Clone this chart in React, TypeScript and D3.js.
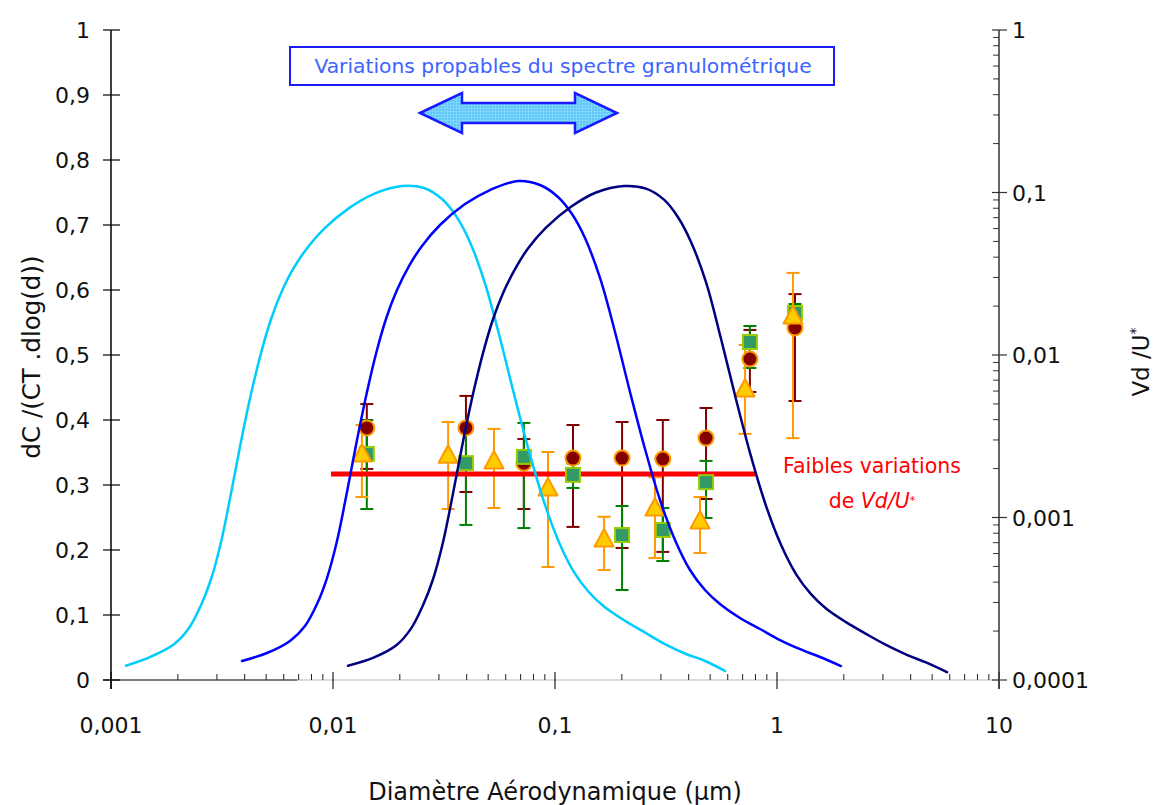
import React from "react";
import * as d3 from "d3";

const W = 1154;
const H = 805;
const FONT = "'DejaVu Sans', Verdana, sans-serif";

// Axis ticks
const xTickValues = [0.001, 0.01, 0.1, 1, 10];
const xTickLabels = ["0,001", "0,01", "0,1", "1", "10"];
const yLeftTicks = [0, 0.1, 0.2, 0.3, 0.4, 0.5, 0.6, 0.7, 0.8, 0.9, 1];
const yLeftLabels = ["0", "0,1", "0,2", "0,3", "0,4", "0,5", "0,6", "0,7", "0,8", "0,9", "1"];
const yRightTicks = [0.0001, 0.001, 0.01, 0.1, 1];
const yRightLabels = ["0,0001", "0,001", "0,01", "0,1", "1"];

// Size-distribution curves (diameter µm, dC/(CT dlog d))
const cyanD = [0.0011683, 0.0015141, 0.0019222, 0.0022458, 0.0025435, 0.0028217, 0.00313, 0.0034718, 0.0038513, 0.0042721, 0.004739, 0.0052568, 0.0058313, 0.0066045, 0.0075558, 0.0091104, 0.011806, 0.015299, 0.020457, 0.0257, 0.030977, 0.035816, 0.040986, 0.047884, 0.055944, 0.065364, 0.076367, 0.089226, 0.10424, 0.12179, 0.14229, 0.16625, 0.20457, 0.25171, 0.30977, 0.38913, 0.46901, 0.58313];
const cyanY = [0.022, 0.036, 0.055, 0.08, 0.115, 0.155, 0.212, 0.287, 0.367, 0.44, 0.503, 0.555, 0.595, 0.632, 0.662, 0.694, 0.726, 0.748, 0.76, 0.757, 0.74, 0.714, 0.677, 0.615, 0.532, 0.44, 0.352, 0.274, 0.212, 0.166, 0.135, 0.113, 0.092, 0.074, 0.056, 0.04, 0.03, 0.014];

const blueD = [0.003891, 0.005043, 0.006401, 0.007479, 0.008471, 0.009397, 0.010424, 0.011562, 0.012826, 0.014227, 0.015781, 0.017506, 0.019418, 0.021995, 0.025171, 0.030336, 0.03932, 0.05095, 0.068129, 0.085588, 0.10316, 0.11929, 0.1365, 0.15951, 0.18637, 0.21773, 0.25435, 0.29718, 0.34718, 0.40562, 0.4739, 0.55367, 0.68129, 0.83837, 1.0316, 1.2963, 1.5618, 1.9422];
const blueY = [0.0292, 0.0415, 0.06, 0.0831, 0.1169, 0.1569, 0.2138, 0.2892, 0.3692, 0.4431, 0.5077, 0.56, 0.6, 0.6369, 0.6677, 0.7, 0.7323, 0.7538, 0.7677, 0.7615, 0.7431, 0.7169, 0.68, 0.6185, 0.5354, 0.4431, 0.3554, 0.2769, 0.2154, 0.1692, 0.1385, 0.1169, 0.0954, 0.0785, 0.0615, 0.0462, 0.0354, 0.0215];

const navyD = [0.011683, 0.015141, 0.019222, 0.022458, 0.025435, 0.028217, 0.0313, 0.034718, 0.038513, 0.042721, 0.04739, 0.052568, 0.058313, 0.066045, 0.075558, 0.091104, 0.11806, 0.15299, 0.20457, 0.257, 0.30977, 0.35816, 0.40986, 0.47884, 0.55944, 0.65364, 0.76367, 0.89226, 1.0424, 1.2179, 1.4229, 1.6625, 2.0457, 2.5171, 3.0977, 3.8913, 4.6901, 5.8313];
const navyY = [0.022, 0.034, 0.053, 0.079, 0.115, 0.155, 0.212, 0.287, 0.367, 0.44, 0.503, 0.555, 0.595, 0.632, 0.664, 0.696, 0.728, 0.75, 0.76, 0.756, 0.739, 0.712, 0.674, 0.612, 0.525, 0.432, 0.344, 0.268, 0.208, 0.163, 0.132, 0.11, 0.089, 0.071, 0.054, 0.038, 0.027, 0.012];

// Vd/U* measurements (right log axis)
const circleD = [0.0142, 0.0397, 0.0724, 0.1205, 0.2005, 0.306, 0.479, 0.755, 1.205];
const circleV = [0.00356, 0.00356, 0.00216, 0.00232, 0.00232, 0.00229, 0.00308, 0.00945, 0.01466];
const circleLo = [0.00199, 0.001435, 0.001128, 0.000875, 0.000649, 0.000614, 0.0013, 0.00592, 0.00521];
const circleHi = [0.00499, 0.0056, 0.00304, 0.00371, 0.00387, 0.00398, 0.00472, 0.01426, 0.0237];

const squareD = [0.0142, 0.0397, 0.0724, 0.1205, 0.2005, 0.306, 0.479, 0.755, 1.205];
const squareV = [0.00246, 0.00216, 0.00236, 0.00183, 0.00078, 0.000838, 0.00165, 0.01202, 0.01813];
const squareLo = [0.001128, 0.0009, 0.000861, 0.00152, 0.000358, 0.00054, 0.000993, 0.00832, 0.0153];
const squareHi = [0.00398, 0.00345, 0.00382, 0.00215, 0.001177, 0.001144, 0.00223, 0.01508, 0.0206];

const triD = [0.0135, 0.033, 0.0531, 0.093, 0.1664, 0.282, 0.45, 0.718, 1.18];
const triV = [0.00249, 0.00245, 0.00226, 0.00154, 0.000748, 0.00116, 0.000965, 0.00627, 0.0176];
const triLo = [0.001337, 0.001128, 0.001144, 0.000496, 0.000475, 0.000563, 0.000605, 0.00327, 0.00308];
const triHi = [0.00371, 0.00387, 0.00351, 0.00253, 0.00101, 0.00177, 0.001337, 0.01153, 0.032];

// Constant Vd/U* line
const redLineD = [0.0098, 0.8];
const redLineV = 0.00185;

export default function App() {
  const x = d3.scaleLog().domain([0.001, 10]).range([111, 999]);
  const yL = d3.scaleLinear().domain([0, 1]).range([680, 30]);
  const yR = d3.scaleLog().domain([0.0001, 1]).range([680, 30]);

  const line = d3
    .line<[number, number]>()
    .x((d) => x(d[0]))
    .y((d) => yL(d[1]))
    .curve(d3.curveCatmullRom.alpha(0.5));

  const curves = [
    { d: cyanD, y: cyanY, color: "#00ccff" },
    { d: blueD, y: blueY, color: "#0000ff" },
    { d: navyD, y: navyY, color: "#000080" },
  ];

  const xMinor = x.ticks().filter((v) => !xTickValues.some((t) => Math.abs(t - v) / t < 1e-6));
  const yMinor = yR.ticks().filter((v) => !yRightTicks.some((t) => Math.abs(t - v) / t < 1e-6));

  const errBars = (ds: number[], lo: number[], hi: number[], color: string, key: string) =>
    ds.map((d, i) => {
      const cx = x(d);
      return (
        <g key={key + i} stroke={color} strokeWidth={2}>
          <line x1={cx} x2={cx} y1={yR(lo[i])} y2={yR(hi[i])} />
          <line x1={cx - 6.5} x2={cx + 6.5} y1={yR(lo[i])} y2={yR(lo[i])} />
          <line x1={cx - 6.5} x2={cx + 6.5} y1={yR(hi[i])} y2={yR(hi[i])} />
        </g>
      );
    });

  // arrow geometry (annotation)
  const aL = 420, aR = 617, aY = 113, headL = 42, headH = 20, shaftH = 10;
  const arrowPath = `M${aL},${aY} L${aL + headL},${aY - headH} L${aL + headL},${aY - shaftH} L${aR - headL},${aY - shaftH} L${aR - headL},${aY - headH} L${aR},${aY} L${aR - headL},${aY + headH} L${aR - headL},${aY + shaftH} L${aL + headL},${aY + shaftH} L${aL + headL},${aY + headH} Z`;

  return (
    <svg
      width={W}
      height={H}
      style={{ position: "absolute", left: 0, top: 0, background: "#fff" }}
      fontFamily={FONT}
    >
      <defs>
        <pattern id="grid" width="3" height="3" patternUnits="userSpaceOnUse">
          <rect width="3" height="3" fill="#5ec8f8" />
          <path d="M0,0 H3 M0,0 V3" stroke="#a8e4ff" strokeWidth={0.8} />
        </pattern>
      </defs>

      {/* x axis */}
      <line x1={103} x2={999} y1={yL(0)} y2={yL(0)} stroke="#cfcfcf" strokeWidth={1.5} />
      <line x1={103} x2={x(0.0069)} y1={yL(0)} y2={yL(0)} stroke="#222" strokeWidth={1.2} />
      {xMinor.map((v, i) => (
        <line key={"xm" + i} x1={x(v)} x2={x(v)} y1={yL(0) - 6} y2={yL(0)} stroke="#222" strokeWidth={1} />
      ))}
      {xTickValues.map((v, i) => (
        <g key={"xt" + i}>
          <line x1={x(v)} x2={x(v)} y1={yL(0) - 8} y2={yL(0) + 9} stroke="#222" strokeWidth={1.2} />
          <text x={x(v)} y={733} textAnchor="middle" fontSize={22} fill="#111">
            {xTickLabels[i]}
          </text>
        </g>
      ))}

      {/* left axis */}
      <line x1={111} x2={111} y1={yL(1)} y2={yL(0) + 9} stroke="#000" strokeWidth={1.5} />
      {yLeftTicks.map((v, i) => (
        <g key={"yl" + i}>
          <line x1={103} x2={120} y1={yL(v)} y2={yL(v)} stroke="#000" strokeWidth={1.2} />
          <text x={90} y={yL(v) + 8} textAnchor="end" fontSize={22} fill="#111">
            {yLeftLabels[i]}
          </text>
        </g>
      ))}

      {/* right axis */}
      <line x1={999} x2={999} y1={yR(1)} y2={yR(0.0001) + 9} stroke="#333" strokeWidth={1.5} />
      {yMinor.map((v, i) => (
        <line key={"rm" + i} x1={993} x2={999} y1={yR(v)} y2={yR(v)} stroke="#333" strokeWidth={1} />
      ))}
      {yRightTicks.map((v, i) => (
        <g key={"yr" + i}>
          <line x1={992} x2={1007} y1={yR(v)} y2={yR(v)} stroke="#333" strokeWidth={1.2} />
          <text x={1012} y={yR(v) + 8} textAnchor="start" fontSize={22} fill="#111">
            {yRightLabels[i]}
          </text>
        </g>
      ))}

      {/* axis titles */}
      <text transform={`translate(40,357) rotate(-90)`} textAnchor="middle" fontSize={24.5} fill="#111">
        dC /(CT .dlog(d))
      </text>
      <text x={555} y={800} textAnchor="middle" fontSize={24} fill="#111">
        Diamètre Aérodynamique (µm)
      </text>
      <text transform={`translate(1149,362) rotate(-90)`} textAnchor="middle" fontSize={23} fill="#111">
        Vd /U
        <tspan fontSize={14} dy={-9}>*</tspan>
      </text>

      {/* error bars */}
      {errBars(circleD, circleLo, circleHi, "#800000", "ec")}
      {errBars(squareD, squareLo, squareHi, "#008000", "es")}
      {errBars(triD, triLo, triHi, "#ff9900", "et")}

      {/* red constant line */}
      <line
        x1={x(redLineD[0])}
        x2={x(redLineD[1])}
        y1={yR(redLineV)}
        y2={yR(redLineV)}
        stroke="#ff0000"
        strokeWidth={5}
      />

      {/* markers */}
      {circleD.map((d, i) => (
        <circle key={"c" + i} cx={x(d)} cy={yR(circleV[i])} r={7.5} fill="#800000" stroke="#ff9900" strokeWidth={2} />
      ))}
      {squareD.map((d, i) => (
        <rect
          key={"s" + i}
          x={x(d) - 7}
          y={yR(squareV[i]) - 7}
          width={14}
          height={14}
          fill="#339966"
          stroke="#99cc00"
          strokeWidth={2}
        />
      ))}
      {triD.map((d, i) => (
        <path
          key={"t" + i}
          transform={`translate(${x(d)},${yR(triV[i])})`}
          d="M0,-9 L9.5,8.5 L-9.5,8.5 Z"
          fill="#ffcc00"
          stroke="#ff9900"
          strokeWidth={2}
          strokeLinejoin="round"
        />
      ))}

      {/* curves */}
      {curves.map((c, k) => (
        <path
          key={"cv" + k}
          d={line(c.d.map((d, i) => [d, c.y[i]] as [number, number])) || ""}
          fill="none"
          stroke={c.color}
          strokeWidth={2.5}
          strokeLinecap="round"
        />
      ))}

      {/* annotation text */}
      <text x={872} y={473} textAnchor="middle" fontSize={20.5} fill="#ff0000">
        Faibles variations
      </text>
      <text x={872} y={508} textAnchor="middle" fontSize={20.5} fill="#ff0000">
        de <tspan fontStyle="italic">Vd/U</tspan>
        <tspan fontSize={11} dy={-4}>*</tspan>
      </text>

      {/* top box and arrow */}
      <rect x={290} y={47} width={544} height={38} fill="#fff" stroke="#1a1aff" strokeWidth={2} />
      <text x={563} y={73} textAnchor="middle" fontSize={20.3} fill="#3d63ff">
        Variations propables du spectre granulométrique
      </text>
      <path d={arrowPath} fill="url(#grid)" stroke="#1a1aff" strokeWidth={2.5} strokeLinejoin="miter" />
    </svg>
  );
}
